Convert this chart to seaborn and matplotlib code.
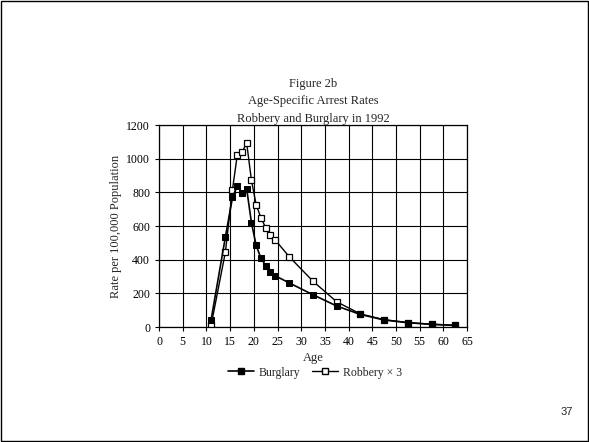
import seaborn as sns
import pandas as pd
import matplotlib.pyplot as plt
from matplotlib.lines import Line2D

# age group midpoints (UCR groups)
ages = [11, 14, 15.5, 16.5, 17.5, 18.5, 19.5, 20.5, 21.5, 22.5, 23.5, 24.5,
        27.5, 32.5, 37.5, 42.5, 47.5, 52.5, 57.5, 62.5]
burglary = [45, 535, 770, 840, 797, 820, 620, 485, 410, 365, 330, 305,
            262, 192, 125, 75, 42, 26, 16, 10]
robbery_x3 = [12, 445, 817, 1020, 1040, 1092, 872, 726, 650, 590, 546, 518,
              417, 272, 150, 78, 44, 27, 17, 11]

sns.set_theme(style="white")
plt.rcParams['font.family'] = ['Liberation Serif', 'DejaVu Serif']

df = pd.DataFrame({'Age': ages, 'Burglary': burglary, 'Robbery': robbery_x3})

fig = plt.figure(figsize=(5.89, 4.42), dpi=100)
ax = fig.add_axes([0.270, 0.260, 0.523, 0.457])

sns.lineplot(data=df, x='Age', y='Robbery', ax=ax, color='black', lw=1.0,
             marker='s', markersize=5, markerfacecolor='white',
             markeredgecolor='black', markeredgewidth=0.9)
sns.lineplot(data=df, x='Age', y='Burglary', ax=ax, color='black', lw=1.2,
             marker='s', markersize=5, markerfacecolor='black',
             markeredgecolor='black')

ax.set_xlim(0, 65)
ax.set_ylim(0, 1200)
ax.set_xticks(range(0, 66, 5))
ax.set_yticks(range(0, 1201, 200))
ax.grid(True, color='black', lw=0.8)
for s in ax.spines.values():
    s.set_color('black')
    s.set_linewidth(0.9)
ax.tick_params(axis='both', labelsize=8.5, colors='black', length=3, width=0.8,
               direction='out', left=True, bottom=True)
ax.set_xlabel('Age', fontsize=9, labelpad=3)
ax.set_ylabel('Rate per 100,000 Population', fontsize=9, labelpad=3)

fig.text(0.532, 0.803, 'Figure 2b', ha='center', fontsize=9)
fig.text(0.532, 0.764, 'Age-Specific Arrest Rates', ha='center', fontsize=9)
fig.text(0.532, 0.725, 'Robbery and Burglary in 1992', ha='center', fontsize=9)

handles = [
    Line2D([], [], color='black', lw=1.2, marker='s', markersize=5,
           markerfacecolor='black'),
    Line2D([], [], color='black', lw=1.0, marker='s', markersize=5,
           markerfacecolor='white'),
]
fig.legend(handles, ['Burglary', 'Robbery \u00d7 3'], loc='center',
           bbox_to_anchor=(0.535, 0.157), ncol=2, frameon=False,
           fontsize=8.5, handlelength=2.2, columnspacing=1.0, handletextpad=0.4)

fig.text(0.962, 0.062, '37', ha='center', fontsize=8,
         family=['Liberation Sans', 'DejaVu Sans'])

fig.patches.append(plt.Rectangle((0.002, 0.002), 0.996, 0.996, fill=False,
                                 edgecolor='black', lw=1.0,
                                 transform=fig.transFigure, figure=fig))

fig.savefig('out.png', dpi=100)
